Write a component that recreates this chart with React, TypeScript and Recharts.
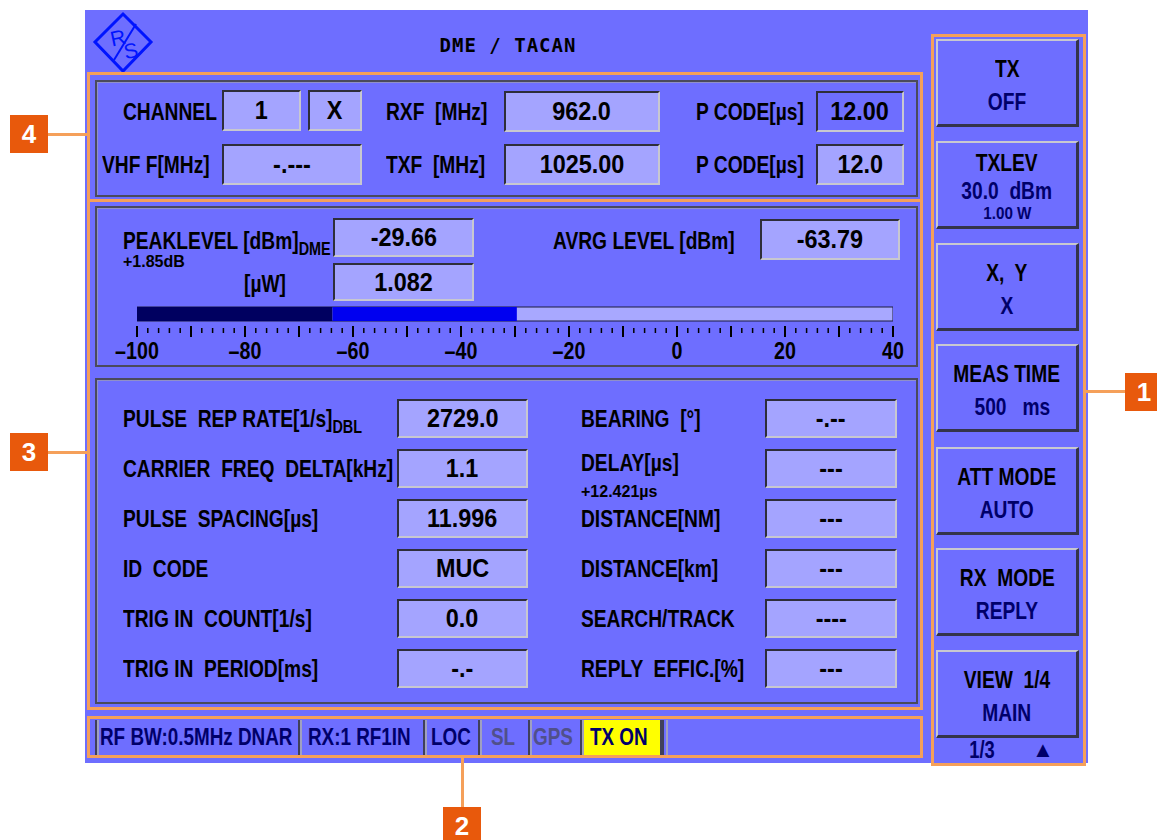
import React from 'react';
import { BarChart, Bar, XAxis, YAxis } from 'recharts';

// level meter scale and readings
const SCALE_MIN = -100;
const SCALE_MAX = 40;
const PEAK_LEVEL = -29.66;
const AVRG_LEVEL = -63.79;
const SCALE_LABELS = [-100, -80, -60, -40, -20, 0, 20, 40];
const SCALE_TICKS = Array.from({ length: (SCALE_MAX - SCALE_MIN) / 2 + 1 }, (_, i) => SCALE_MIN + i * 2);

// measurement panel
const LEFT_LABELS = ['PULSE  REP RATE[1/s]', 'CARRIER  FREQ  DELTA[kHz]', 'PULSE  SPACING[µs]', 'ID  CODE', 'TRIG IN  COUNT[1/s]', 'TRIG IN  PERIOD[ms]'];
const LEFT_SUBS = ['DBL', '', '', '', '', ''];
const LEFT_VALUES = ['2729.0', '1.1', '11.996', 'MUC', '0.0', '-.-'];
const RIGHT_LABELS = ['BEARING  [°]', 'DELAY[µs]', 'DISTANCE[NM]', 'DISTANCE[km]', 'SEARCH/TRACK', 'REPLY  EFFIC.[%]'];
const RIGHT_VALUES = ['-.--', '---', '---', '---', '----', '---'];

// softkeys
const SOFTKEY_TITLES = ['TX', 'TXLEV', 'X,  Y', 'MEAS TIME', 'ATT MODE', 'RX  MODE', 'VIEW  1/4'];
const SOFTKEY_VALUES = ['OFF', '30.0  dBm', 'X', '  500   ms', 'AUTO', 'REPLY', 'MAIN'];
const SOFTKEY_SUBS = ['', '1.00 W', '', '', '', '', ''];

// status bar
const STATUS_TEXT = ['RF BW:0.5MHz DNAR', 'RX:1 RF1IN', 'LOC', 'SL', 'GPS', 'TX ON'];
const STATUS_ACTIVE = [true, true, true, false, false, true];

const FONT = '"Liberation Sans", Arial, sans-serif';
const SX = 0.8;
const BG = '#6e6eff';
const FIELD = '#a4a4ff';
const NAVY = '#00006a';
const ORANGE = '#f5a05a';
const TAG = '#e8590c';

const meterData = [
  { name: 'level', full: [SCALE_MIN, SCALE_MAX], avrg: [SCALE_MIN, AVRG_LEVEL], peak: [AVRG_LEVEL, PEAK_LEVEL] },
];

const abs = (x: number, y: number, w?: number, h?: number): React.CSSProperties => ({
  position: 'absolute', left: x, top: y, width: w, height: h, boxSizing: 'border-box',
});

function Sq({ children, sx = SX, origin = 'left center' }: any) {
  return (
    <span style={{ display: 'inline-block', transform: `scaleX(${sx})`, transformOrigin: origin, whiteSpace: 'pre' }}>
      {children}
    </span>
  );
}

function Label({ x, cy, text, sub, size = 24, sx = SX, color = '#000' }: any) {
  return (
    <div style={{ ...abs(x, cy - 16, undefined, 32), lineHeight: '32px', fontSize: size, fontWeight: 'bold', whiteSpace: 'pre', color }}>
      <Sq sx={sx}>
        {text}
        {sub ? <span style={{ fontSize: 18, position: 'relative', top: 6 }}>{sub}</span> : null}
      </Sq>
    </div>
  );
}

function Field({ x, y, w, h, text, fill = FIELD }: any) {
  return (
    <div
      style={{
        ...abs(x, y, w, h),
        background: fill,
        borderTop: '2px solid #2e2e3a',
        borderLeft: '2px solid #2e2e3a',
        borderBottom: '2px solid #c8c8d0',
        borderRight: '2px solid #c8c8d0',
        textAlign: 'center',
        lineHeight: `${h - 4}px`,
        fontSize: 26,
        fontWeight: 'bold',
        whiteSpace: 'pre',
      }}
    >
      <Sq sx={0.9} origin="center center">{text}</Sq>
    </div>
  );
}

function Panel({ x, y, w, h }: any) {
  return <div style={{ ...abs(x, y, w, h), border: '2px solid #4a4a5c', boxShadow: 'inset 1px 1px 0 #9090c8' }} />;
}

function MeterTick(props: any) {
  const { x, y, payload } = props;
  const v = payload.value;
  const major = v % 10 === 0;
  return (
    <g>
      <line x1={x} x2={x} y1={y + (major ? 4 : 6)} y2={y + (major ? 15 : 11)} stroke="#000" strokeWidth={major ? 2 : 1.5} />
      {SCALE_LABELS.includes(v) ? (
        <text
          transform={`translate(${x},${y + 37}) scale(0.82,1)`}
          textAnchor="middle"
          fontSize={24}
          fontWeight="bold"
          fontFamily={FONT}
          fill="#000"
        >
          {v < 0 ? `–${-v}` : v}
        </text>
      ) : null}
    </g>
  );
}

function Tag({ x, y, n }: any) {
  return (
    <div style={{ ...abs(x, y, 38, 38), background: TAG, color: '#fff', fontFamily: FONT, fontWeight: 'bold', fontSize: 26, textAlign: 'center', lineHeight: '38px' }}>
      {n}
    </div>
  );
}

export default function App() {
  const rowTops = [399, 449, 499, 549, 599, 649];
  const keyTops = [39, 141, 243, 344, 447, 548, 650];
  const statusX = [95, 298, 423, 478, 528, 580];
  const statusW = [205, 127, 57, 52, 54, 82];
  const statusPad = [3, 8, 6, 11, 3, 8];

  return (
    <div style={{ ...abs(0, 0, 1157, 840), background: '#fff', fontFamily: FONT, overflow: 'hidden' }}>
      {/* instrument screen */}
      <div style={{ ...abs(85, 10, 1003, 753), background: BG }} />

      {/* R&S logo */}
      <svg style={abs(90, 10)} width={66} height={66}>
        <polygon points="33,4 61,32 33,61 5,32" fill="none" stroke="#0014ff" strokeWidth={3} />
        <text x={28} y={35} fontSize={21} fontFamily={FONT} fill="#0014ff" textAnchor="middle" transform="rotate(-12 28 28)">R</text>
        <text x={41} y={48} fontSize={21} fontFamily={FONT} fill="#0014ff" textAnchor="middle" transform="rotate(-12 41 41)">S</text>
        <line x1={24} y1={50} x2={46} y2={14} stroke="#0014ff" strokeWidth={2} />
      </svg>
      <div style={{ ...abs(380, 30, 256, 30), textAlign: 'center', fontFamily: '"DejaVu Sans Mono", "Liberation Mono", monospace', fontWeight: 'bold', fontSize: 19, letterSpacing: 1, lineHeight: '30px', whiteSpace: 'pre' }}>
        DME / TACAN
      </div>

      {/* panel 1: channel / frequencies */}
      <Panel x={95} y={80} w={823} h={117} />
      <Label x={123} cy={112} text="CHANNEL" />
      <Field x={222} y={90} w={79} h={41} text="1" />
      <Field x={308} y={90} w={54} h={41} text="X" />
      <Label x={386} cy={112} text="RXF  [MHz]" />
      <Field x={504} y={91} w={156} h={41} text="962.0" />
      <Label x={696} cy={112} text="P CODE[µs]" />
      <Field x={816} y={91} w={88} h={41} text="12.00" fill={BG} />
      <Label x={102} cy={165} text="VHF F[MHz]" />
      <Field x={222} y={144} w={140} h={41} text="-.---" />
      <Label x={386} cy={165} text="TXF  [MHz]" />
      <Field x={504} y={144} w={156} h={41} text="1025.00" />
      <Label x={696} cy={165} text="P CODE[µs]" />
      <Field x={816} y={144} w={88} h={41} text="12.0" />

      {/* panel 2: level */}
      <Panel x={95} y={206} w={823} h={161} />
      <Label x={123} cy={241} text="PEAKLEVEL [dBm]" sub="DME" />
      <Label x={123} cy={262} text="+1.85dB" size={16} sx={1} />
      <Field x={333} y={218} w={141} h={39} text="-29.66" />
      <Label x={244} cy={284} text="[µW]" />
      <Field x={333} y={263} w={141} h={38} text="1.082" />
      <Label x={553} cy={241} text="AVRG LEVEL [dBm]" />
      <Field x={760} y={219} w={140} h={41} text="-63.79" />

      <div style={abs(107, 306, 816, 58)}>
        <BarChart
          width={816}
          height={58}
          data={meterData}
          layout="vertical"
          margin={{ top: 0, right: 30, bottom: 0, left: 30 }}
          barGap={-14}
          barCategoryGap={0}
          style={{ overflow: 'visible' }}
        >
          <XAxis
            type="number"
            domain={[SCALE_MIN, SCALE_MAX]}
            ticks={SCALE_TICKS}
            interval={0}
            axisLine={false}
            tickLine={false}
            tickSize={0}
            tickMargin={0}
            height={42}
            allowDataOverflow
            tick={(p: any) => <MeterTick {...p} />}
          />
          <YAxis type="category" dataKey="name" hide width={0} />
          <Bar dataKey="full" fill="#a8a8ff" stroke="#1c1c3c" strokeWidth={1} barSize={14} isAnimationActive={false} />
          <Bar dataKey="avrg" fill="#000060" barSize={14} isAnimationActive={false} />
          <Bar dataKey="peak" fill="#0000f0" barSize={14} isAnimationActive={false} />
        </BarChart>
      </div>

      {/* panel 3: measurements */}
      <Panel x={95} y={378} w={823} h={326} />
      {LEFT_LABELS.map((t, i) => (
        <React.Fragment key={`l-${i}`}>
          <Label x={123} cy={rowTops[i] + 20} text={t} sub={LEFT_SUBS[i]} />
          <Field x={397} y={rowTops[i]} w={131} h={39} text={LEFT_VALUES[i]} />
        </React.Fragment>
      ))}
      {RIGHT_LABELS.map((t, i) => (
        <React.Fragment key={`r-${i}`}>
          <Label x={581} cy={rowTops[i] + (i === 1 ? 14 : 20)} text={t} />
          <Field x={765} y={rowTops[i]} w={132} h={39} text={RIGHT_VALUES[i]} />
        </React.Fragment>
      ))}
      <Label x={581} cy={492} text="+12.421µs" size={16} sx={1} />

      {/* status bar */}
      {STATUS_TEXT.map((t, i) => (
        <div
          key={`s-${i}`}
          style={{
            ...abs(statusX[i], 720, statusW[i], 36),
            borderLeft: '2px solid #40405a',
            borderRight: '2px solid #40405a',
            boxShadow: 'inset 2px 0 0 #a0a0c0',
            background: t === 'TX ON' ? '#ffff00' : 'transparent',
            color: STATUS_ACTIVE[i] ? NAVY : '#50508a',
            fontSize: 23,
            fontWeight: 'bold',
            lineHeight: '34px',
            textAlign: 'left',
            paddingLeft: statusPad[i],
            whiteSpace: 'pre',
          }}
        >
          <Sq sx={0.82}>{t}</Sq>
        </div>
      ))}
      <div style={{ ...abs(662, 720, 6, 36), borderLeft: '2px solid #40405a', borderRight: '2px solid #a0a0c0' }} />

      {/* softkeys */}
      {SOFTKEY_TITLES.map((t, i) => (
        <div
          key={`k-${i}`}
          style={{
            ...abs(936, keyTops[i], 143, 88),
            borderTop: '2px solid #c8c8d0',
            borderLeft: '2px solid #c8c8d0',
            borderBottom: '3px solid #34344a',
            borderRight: '3px solid #34344a',
            textAlign: 'center',
            fontWeight: 'bold',
            whiteSpace: 'pre',
          }}
        >
          <div style={{ position: 'absolute', left: 0, right: 0, top: SOFTKEY_SUBS[i] ? 5 : 13, fontSize: 24, lineHeight: '30px', color: '#000' }}>
            <Sq origin="center center">{t}</Sq>
          </div>
          <div style={{ position: 'absolute', left: 0, right: 0, top: SOFTKEY_SUBS[i] ? 33 : 46, fontSize: 24, lineHeight: '30px', color: NAVY }}>
            <Sq origin="center center">{SOFTKEY_VALUES[i]}</Sq>
          </div>
          {SOFTKEY_SUBS[i] ? (
            <div style={{ position: 'absolute', left: 0, right: 0, top: 61, fontSize: 16, lineHeight: '20px', color: NAVY }}>
              <Sq sx={0.95} origin="center center">{SOFTKEY_SUBS[i]}</Sq>
            </div>
          ) : null}
        </div>
      ))}
      <div style={{ ...abs(962, 736, 40, 28), fontSize: 23, fontWeight: 'bold', color: NAVY, lineHeight: '28px', textAlign: 'center' }}>
        <Sq origin="center center">1/3</Sq>
      </div>
      <div style={{ ...abs(1030, 736, 26, 28), fontSize: 22, color: NAVY, lineHeight: '28px', textAlign: 'center' }}>▲</div>

      {/* annotation callouts */}
      <div style={{ ...abs(87, 72, 836, 130), border: `3px solid ${ORANGE}` }} />
      <div style={{ ...abs(87, 199, 836, 511), border: `3px solid ${ORANGE}` }} />
      <div style={{ ...abs(87, 716, 836, 42), border: `3px solid ${ORANGE}` }} />
      <div style={{ ...abs(931, 34, 155, 732), border: `3px solid ${ORANGE}` }} />
      <div style={{ ...abs(48, 133, 40, 3), background: ORANGE }} />
      <div style={{ ...abs(48, 451, 40, 3), background: ORANGE }} />
      <div style={{ ...abs(1085, 390, 41, 3), background: ORANGE }} />
      <div style={{ ...abs(461, 757, 3, 50), background: ORANGE }} />
      <Tag x={10} y={115} n="4" />
      <Tag x={10} y={433} n="3" />
      <Tag x={1125} y={373} n="1" />
      <Tag x={443} y={807} n="2" />
    </div>
  );
}
